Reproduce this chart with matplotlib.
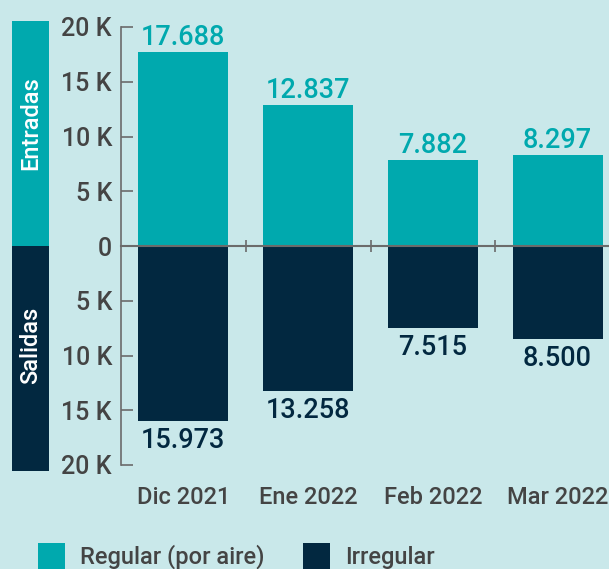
import matplotlib
matplotlib.use("Agg")
import matplotlib.pyplot as plt
from matplotlib.patches import Rectangle
from matplotlib.ticker import FixedLocator, FuncFormatter
import matplotlib.transforms as mtransforms

categories = ["Dic 2021", "Ene 2022", "Feb 2022", "Mar 2022"]
regular = [17688, 12837, 7882, 8297]
irregular = [15973, 13258, 7515, 8500]
ytick_values = [-20000, -15000, -10000, -5000, 0, 5000, 10000, 15000, 20000]
legend_labels = ["Regular (por aire)", "Irregular"]
side_labels = ["Entradas", "Salidas"]

TEAL = "#00A9AE"
NAVY = "#022840"
BG = "#C9E8EA"
GRAY = "#444444"
AX = "#6b6b6b"

plt.rcParams['font.family'] = ['Roboto', 'DejaVu Sans']

W, H = 609, 569
PT = 72 / 100  # points per pixel
fig = plt.figure(figsize=(W/100, H/100), dpi=100)
fig.patch.set_facecolor(BG)

def fx(px): return px / W
def fy(py): return 1 - py / H

ax = fig.add_axes([fx(121), fy(465), (620-121)/W, (465-27)/H])
ax.set_facecolor(BG)

x = list(range(len(categories)))
ax.bar(x, regular, width=0.72, color=TEAL, zorder=2)
ax.bar(x, [-v for v in irregular], width=0.72, color=NAVY, zorder=2)

ax.set_xlim(-0.5, len(categories) - 0.5)
ax.set_ylim(-20000, 20000)

for s in ["top", "right"]:
    ax.spines[s].set_visible(False)
ax.spines["left"].set_color(AX)
ax.spines["left"].set_linewidth(1.2)
ax.spines["bottom"].set_position(("data", 0))
ax.spines["bottom"].set_color(AX)
ax.spines["bottom"].set_linewidth(1.5)
ax.spines["bottom"].set_zorder(3)

ax.set_yticks(ytick_values)
ax.yaxis.set_major_formatter(FuncFormatter(lambda v, p: "0" if v == 0 else f"{abs(v)/1000:.0f} K"))
ax.tick_params(axis="y", direction="in", length=8.6, width=1.2, color=AX,
               labelsize=18, labelcolor=GRAY, pad=6.5)
for t in ax.get_yticklabels():
    t.set_fontweight("medium")

ax.set_xticks([])
ax.xaxis.set_minor_locator(FixedLocator([i + 0.5 for i in x[:-1]]))
ax.tick_params(axis="x", which="minor", direction="inout", length=8, width=1.2, color=AX)

trans = mtransforms.blended_transform_factory(ax.transData, ax.transAxes)
for i, c in enumerate(categories):
    ax.annotate(c, (i, 0), xycoords=trans, xytext=(0, -39 * PT), textcoords="offset points",
                ha="center", va="baseline", fontsize=17, color=GRAY, fontweight="medium")

def fmt(v):
    return f"{v:,}".replace(",", ".")

for i, v in enumerate(regular):
    ax.annotate(fmt(v), (i, v), xytext=(0, 7 * PT), textcoords="offset points",
                ha="center", va="baseline", fontsize=19.5, color=TEAL, fontweight="medium")
for i, v in enumerate(irregular):
    ax.annotate(fmt(v), (i, -v), xytext=(0, -27 * PT), textcoords="offset points",
                ha="center", va="baseline", fontsize=19.5, color=NAVY, fontweight="medium")

# side bands
fig.add_artist(Rectangle((fx(12), fy(246)), fx(49) - fx(12), fy(21) - fy(246),
                         transform=fig.transFigure, color=TEAL, lw=0))
fig.add_artist(Rectangle((fx(12), fy(471)), fx(49) - fx(12), fy(246) - fy(471),
                         transform=fig.transFigure, color=NAVY, lw=0))
fig.text(fx(31), fy(123), side_labels[0], rotation=90, ha="center", va="center",
         color="white", fontsize=17, fontweight="medium")
fig.text(fx(31), fy(345), side_labels[1], rotation=90, ha="center", va="center",
         color="white", fontsize=17, fontweight="medium")

# legend
for (lx, tx), lab, col in zip([(38, 80), (303, 345)], legend_labels, [TEAL, NAVY]):
    fig.add_artist(Rectangle((fx(lx), fy(572)), fx(27), fy(543) - fy(572),
                             transform=fig.transFigure, color=col, lw=0))
    fig.text(fx(tx), fy(564), lab, ha="left", va="baseline", fontsize=17,
             color=GRAY, fontweight="medium")

fig.savefig("out.png", dpi=100, facecolor=BG)
